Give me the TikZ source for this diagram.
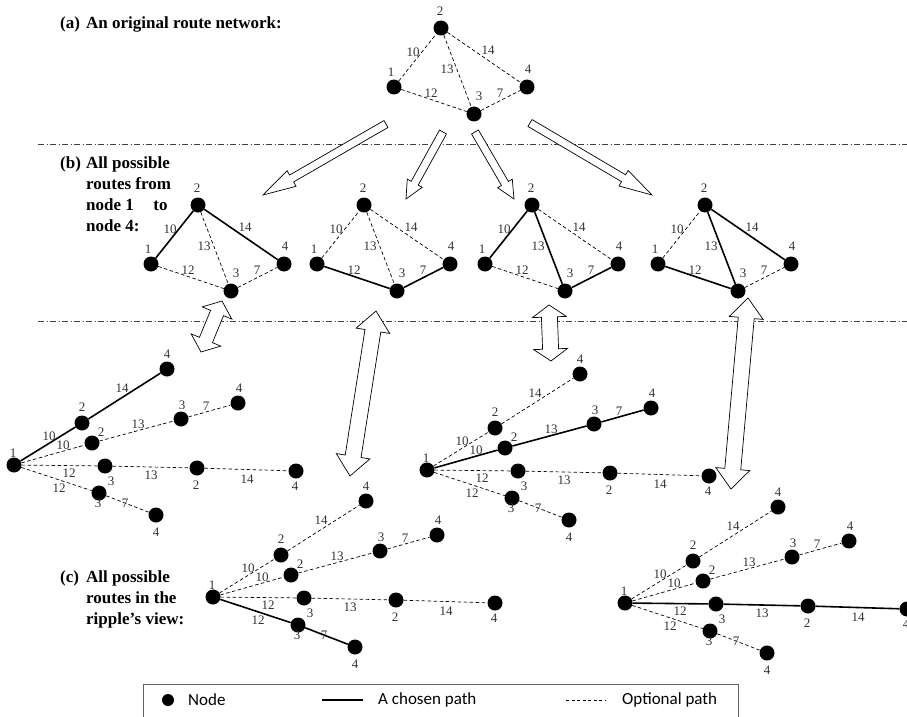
\documentclass[tikz,border=0pt]{standalone}
\usepackage{fontspec}
\setmainfont{Liberation Serif}
\newfontfamily\legfont{Carlito}
\usetikzlibrary{calc}
% network: prefix, x, y, s12, s13, s23, s24, s34
\newcommand\netw[8]{%
  \node[dot] (#1-1) at (#2,#3) {};
  \node[dot] (#1-2) at ($(#1-1)+(47,-59)$) {};
  \node[dot] (#1-3) at ($(#1-1)+(80,27)$) {};
  \node[dot] (#1-4) at ($(#1-1)+(133,0)$) {};
  \draw[#4] (#1-1) -- (#1-2);
  \draw[#5] (#1-1) -- (#1-3);
  \draw[#6] (#1-2) -- (#1-3);
  \draw[#7] (#1-2) -- (#1-4);
  \draw[#8] (#1-3) -- (#1-4);
  \node[num] at ($(#1-1)+(-3,-15)$) {1};
  \node[num] at ($(#1-2)+(-1,-17)$) {2};
  \node[num] at ($(#1-3)+(5,-18)$) {3};
  \node[num] at ($(#1-4)+(1,-18)$) {4};
  \node[num] at ($(#1-1)+(19,-35)$) {10};
  \node[num] at ($(#1-1)+(94,-37)$) {14};
  \node[num] at ($(#1-1)+(53,-18)$) {13};
  \node[num] at ($(#1-1)+(37,6)$) {12};
  \node[num] at ($(#1-1)+(106,6)$) {7};
}
% tree: prefix, x, y, sA, sB, sC, sD
\newcommand\rtree[7]{%
  \node[dot] (#1-r) at (#2,#3) {};
  \node[dot] (#1-a2) at ($(#1-r)+(68,-42)$) {};
  \node[dot] (#1-a4) at ($(#1-r)+(153,-96)$) {};
  \node[dot] (#1-b2) at ($(#1-r)+(78,-22)$) {};
  \node[dot] (#1-b3) at ($(#1-r)+(167,-46)$) {};
  \node[dot] (#1-b4) at ($(#1-r)+(224,-62)$) {};
  \node[dot] (#1-c3) at ($(#1-r)+(91,1)$) {};
  \node[dot] (#1-c2) at ($(#1-r)+(183,3)$) {};
  \node[dot] (#1-c4) at ($(#1-r)+(282,6)$) {};
  \node[dot] (#1-d3) at ($(#1-r)+(85,28)$) {};
  \node[dot] (#1-d4) at ($(#1-r)+(142,50)$) {};
  \draw[#4] (#1-r) -- (#1-a2) -- (#1-a4);
  \draw[#5] (#1-r) -- (#1-b2) -- (#1-b3) -- (#1-b4);
  \draw[#6] (#1-r) -- (#1-c3) -- (#1-c2) -- (#1-c4);
  \draw[#7] (#1-r) -- (#1-d3) -- (#1-d4);
  \node[num] at ($(#1-r)+(-1,-12)$) {1};
  \node[num] at ($(#1-r)+(35,-29)$) {10};
  \node[num] at ($(#1-r)+(68,-58)$) {2};
  \node[num] at ($(#1-r)+(108,-77)$) {14};
  \node[num] at ($(#1-r)+(153,-111)$) {4};
  \node[num] at ($(#1-r)+(49,-20)$) {10};
  \node[num] at ($(#1-r)+(87,-33)$) {2};
  \node[num] at ($(#1-r)+(124,-41)$) {13};
  \node[num] at ($(#1-r)+(168,-60)$) {3};
  \node[num] at ($(#1-r)+(192,-59)$) {7};
  \node[num] at ($(#1-r)+(225,-77)$) {4};
  \node[num] at ($(#1-r)+(55,8)$) {12};
  \node[num] at ($(#1-r)+(97,16)$) {3};
  \node[num] at ($(#1-r)+(137,10)$) {13};
  \node[num] at ($(#1-r)+(182,20)$) {2};
  \node[num] at ($(#1-r)+(233,14)$) {14};
  \node[num] at ($(#1-r)+(281,21)$) {4};
  \node[num] at ($(#1-r)+(45,23)$) {12};
  \node[num] at ($(#1-r)+(84,38)$) {3};
  \node[num] at ($(#1-r)+(111,38)$) {7};
  \node[num] at ($(#1-r)+(142,67)$) {4};
}
% single hollow arrow: tail, tip, shaft half width, head half width, head length
\newcommand\harrow[5]{%
  \coordinate (hb) at ($(#2)!#5!(#1)$);
  \draw[hollow] ($(#1)!#3!90:(#2)$) -- ($(hb)!#3!-90:(#1)$) -- ($(hb)!#4!-90:(#1)$)
    -- (#2) -- ($(hb)!#4!90:(#1)$) -- ($(hb)!#3!90:(#1)$) -- ($(#1)!#3!-90:(#2)$) -- cycle;
}
% double hollow arrow
\newcommand\dharrow[5]{%
  \coordinate (ha) at ($(#1)!#5!(#2)$);
  \coordinate (hb) at ($(#2)!#5!(#1)$);
  \draw[hollow] (#1) -- ($(ha)!#4!90:(#2)$) -- ($(ha)!#3!90:(#2)$) -- ($(hb)!#3!-90:(#1)$)
    -- ($(hb)!#4!-90:(#1)$) -- (#2) -- ($(hb)!#4!90:(#1)$) -- ($(hb)!#3!90:(#1)$)
    -- ($(ha)!#3!-90:(#2)$) -- ($(ha)!#4!-90:(#2)$) -- cycle;
}
\begin{document}
\begin{tikzpicture}[x=1pt,y=-1pt,
  dot/.style={circle,fill=black,inner sep=0pt,minimum size=15pt},
  chosen/.style={line width=1.6pt},
  opt/.style={line width=0.7pt,dash pattern=on 3.5pt off 2.5pt},
  num/.style={inner sep=0pt,font=\fontsize{13}{13}\selectfont,text=black!80},
  head/.style={inner sep=0pt,anchor=base west,font=\fontsize{17}{17}\selectfont\bfseries},
  sep/.style={line width=0.6pt,black!75,dash pattern=on 6pt off 2.5pt on 1pt off 2.5pt},
  hollow/.style={draw,line width=0.7pt,fill=white,line join=miter}]
\useasboundingbox (0,0) rectangle (907,717);
\fill[white] (0,0) rectangle (907,717);

% headings
\node[head] (ha1) at (60,29) {(a)};
\node[head] (ha2) at (86,29) {An original route network:};
\node[head] (hb1) at (60,168) {(b)};
\node[head] (hb2) at (86,168) {All possible};
\node[head] (hb3) at (86,189) {routes from};
\node[head] (hb4) at (86,210) {node 1\hspace{0.9em} to};
\node[head] (hb5) at (86,231) {node 4:};
\node[head] (hc1) at (60,582) {(c)};
\node[head] (hc2) at (86,582) {All possible};
\node[head] (hc3) at (86,603) {routes in the};
\node[head] (hc4) at (86,624) {ripple's view:};

% separators
\draw[sep] (38,144) -- (907,144);
\draw[sep] (38,321) -- (907,321);

% networks
\netw{t}{394}{87}{opt}{opt}{opt}{opt}{opt}
\netw{n1}{151}{264}{chosen}{opt}{opt}{chosen}{opt}
\netw{n2}{317}{264}{opt}{chosen}{opt}{opt}{chosen}
\netw{n3}{485}{264}{chosen}{opt}{chosen}{opt}{chosen}
\netw{n4}{658}{264}{opt}{chosen}{chosen}{chosen}{opt}

% arrows (a) -> (b)
\coordinate (a1s) at (386,124); \coordinate (a1e) at (263,195);
\coordinate (a2s) at (443,132); \coordinate (a2e) at (406,199);
\coordinate (a3s) at (475,132); \coordinate (a3e) at (514,199);
\coordinate (a4s) at (530,123); \coordinate (a4e) at (652,195);
\harrow{a1s}{a1e}{4pt}{9pt}{33pt}
\harrow{a2s}{a2e}{4pt}{8.5pt}{18pt}
\harrow{a3s}{a3e}{4pt}{8.5pt}{18pt}
\harrow{a4s}{a4e}{4pt}{9pt}{33pt}

% arrows (b) <-> (c)
\coordinate (d1s) at (222,301); \coordinate (d1e) at (201,352);
\coordinate (d2s) at (376,311); \coordinate (d2e) at (350,476);
\coordinate (d3s) at (549,305); \coordinate (d3e) at (551,361);
\coordinate (d4s) at (748,298); \coordinate (d4e) at (731,489);
\dharrow{d1s}{d1e}{7pt}{16pt}{13pt}
\dharrow{d2s}{d2e}{8pt}{17pt}{20pt}
\dharrow{d3s}{d3e}{8pt}{17pt}{12pt}
\dharrow{d4s}{d4e}{8pt}{17pt}{20pt}

% trees
\rtree{r1}{14}{465}{chosen}{opt}{opt}{opt}
\rtree{r2}{427}{470}{opt}{chosen}{opt}{opt}
\rtree{r3}{213}{597}{opt}{opt}{opt}{chosen}
\rtree{r4}{625}{603}{opt}{opt}{chosen}{opt}

% legend
\draw[line width=0.8pt,black!60] (143,684) rectangle (738,730);
\node[dot,minimum size=12pt] (lg1) at (168,700) {};
\node[anchor=west,inner sep=0pt,font=\legfont\fontsize{17}{17}\selectfont] (lt1) at (188,700) {Node};
\coordinate (ls1) at (322,700); \coordinate (ls2) at (363,700);
\draw[line width=1.5pt] (ls1) -- (ls2);
\node[anchor=west,inner sep=0pt,font=\legfont\fontsize{17}{17}\selectfont] (lt2) at (378,700) {A chosen path};
\coordinate (lo1) at (566,700); \coordinate (lo2) at (606,700);
\draw[line width=0.7pt,dash pattern=on 3pt off 2.5pt] (lo1) -- (lo2);
\node[anchor=west,inner sep=0pt,font=\legfont\fontsize{17}{17}\selectfont] (lt3) at (622,700) {Optional path};
\end{tikzpicture}
\end{document}
